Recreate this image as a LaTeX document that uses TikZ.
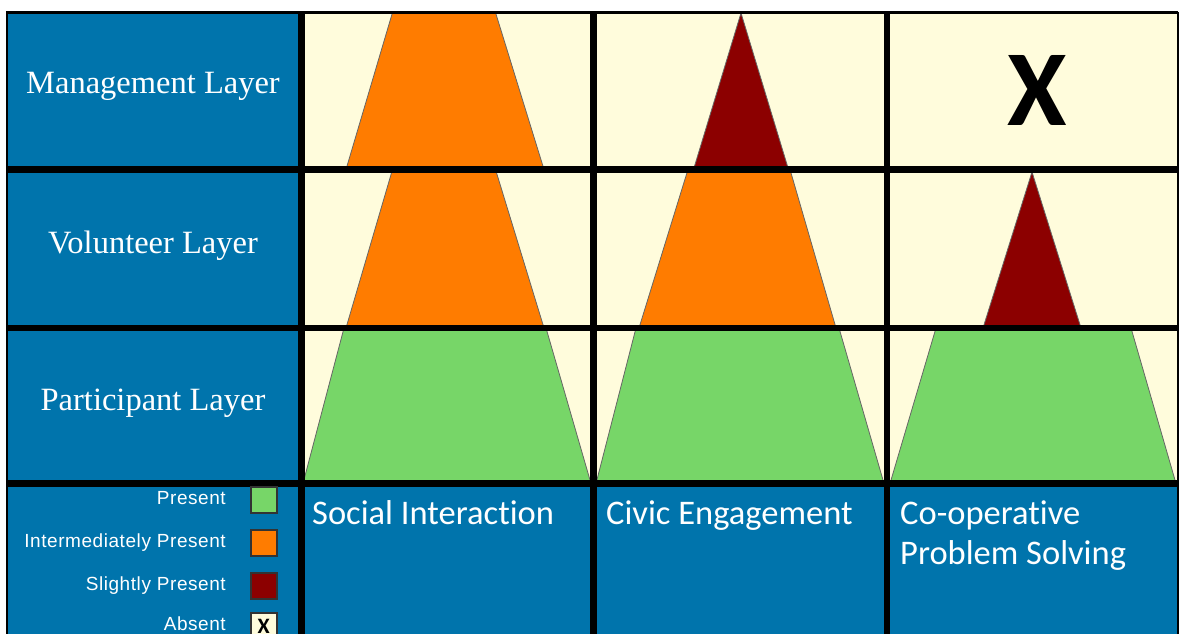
\documentclass[tikz,border=0pt]{standalone}
\usepackage{fontspec}
\setmainfont{Liberation Serif}
\newfontfamily\calfont[Ligatures=NoCommon]{Carlito}
\newfontfamily\legfont[LetterSpace=3]{Liberation Sans}
\usepackage{tikz}
\usetikzlibrary{positioning}
\definecolor{tblblue}{RGB}{0,116,172}
\definecolor{cream}{RGB}{255,252,220}
\definecolor{present}{RGB}{119,214,104}
\definecolor{intermed}{RGB}{255,124,0}
\definecolor{slight}{RGB}{140,0,0}

\begin{document}
\begin{tikzpicture}[x=1pt, y=-1pt,
    rowlabel/.style={text=white, anchor=base, font=\fontsize{32.5}{36}\selectfont},
    collabel/.style={text=white, anchor=base west, align=left, inner sep=0pt, font=\calfont\fontsize{34.5}{40}\selectfont},
    legtext/.style={text=white, anchor=east, inner sep=0pt, text height=13pt, text depth=4pt, font=\legfont\fontsize{19}{20}\selectfont},
    legbox/.style={draw=black!80, line width=1.5pt, minimum size=26pt, inner sep=0pt, right=24pt of #1},
    layer/.style={draw=black!60, line width=.8pt},
    gridline/.style={line width=6.5pt}]
  \useasboundingbox (0,0) rectangle (1179,634);
  % cells
  \fill[tblblue] (7,12.5) rectangle (301.5,634) (301.5,483.5) rectangle (1178,634);
  \fill[cream] (301.5,12.5) rectangle (1178,483.5);
  % social interaction
  \filldraw[layer, fill=intermed] (392.5,12.5) -- (495.5,12.5) -- (544,169.5) -- (346,169.5) -- cycle;
  \filldraw[layer, fill=intermed] (392.5,169.5) -- (495.5,169.5) -- (544,328) -- (346,328) -- cycle;
  \filldraw[layer, fill=present] (344,328) -- (546,328) -- (591,483.5) -- (303,483.5) -- cycle;
  % civic engagement
  \filldraw[layer, fill=slight] (741,13) -- (788.5,169.5) -- (693.5,169.5) -- cycle;
  \filldraw[layer, fill=intermed] (688,169.5) -- (790,169.5) -- (836,328) -- (639,328) -- cycle;
  \filldraw[layer, fill=present] (636,328) -- (839,328) -- (884,483.5) -- (596,483.5) -- cycle;
  % co-operative problem solving
  \node[font=\calfont\bfseries\fontsize{108}{110}\selectfont] (absentMgmt) at (1037,90) {X};
  \filldraw[layer, fill=slight] (1032,172) -- (1081,328) -- (983,328) -- cycle;
  \filldraw[layer, fill=present] (936,328) -- (1131,328) -- (1176,483.5) -- (890,483.5) -- cycle;
  % grid
  \foreach \x in {301.5,593.5,887}
    \draw[gridline] (\x,12.5) -- (\x,634);
  \foreach \y in {169.5,328,483.5}
    \draw[gridline] (7,\y) -- (1178,\y);
  \draw[line width=2.5pt] (7,634) -- (7,12.5) -- (1178,12.5);
  \draw[line width=1.5pt] (1178,12.5) -- (1178,634);
  % labels
  \node[rowlabel] (mgmt) at (153,93) {Management Layer};
  \node[rowlabel] (vol) at (153,253) {Volunteer Layer};
  \node[rowlabel] (part) at (153,410) {Participant Layer};
  \node[collabel] (social) at (312,524) {Social Interaction};
  \node[collabel] (civic) at (606,524) {Civic Engagement};
  \node[collabel] (coop) at (900,564) {Co-operative\\Problem Solving};
  % legend
  \foreach \nm/\txt/\col/\yy in {lgPresent/Present/present/500,
      lgIntermed/Intermediately Present/intermed/543,
      lgSlight/Slightly Present/slight/586}
  {
    \node[legtext] (\nm) at (226,\yy) {\txt};
    \node[legbox=\nm, fill=\col] (\nm box) {};
  }
  \node[legtext] (lgAbsent) at (226,626) {Absent};
  \node[legbox=lgAbsent, fill=cream, font=\calfont\bfseries\fontsize{22}{22}\selectfont] (lgAbsent box) {X};
\end{tikzpicture}
\end{document}
